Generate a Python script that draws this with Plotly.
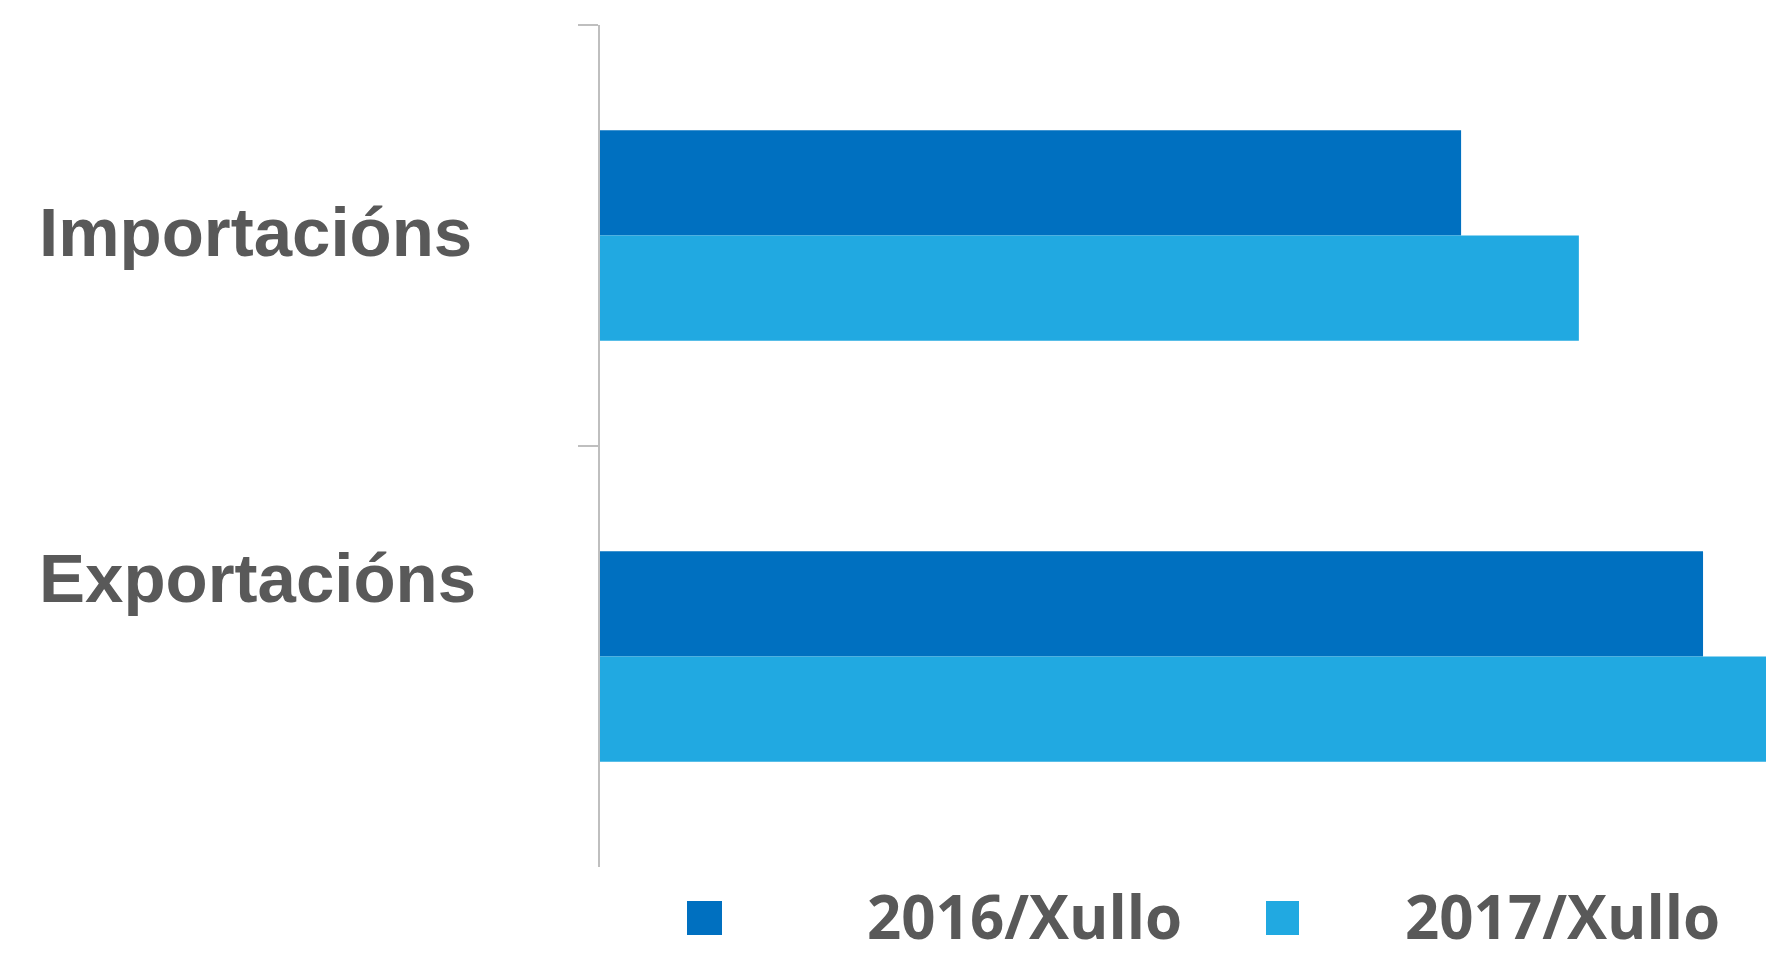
import plotly.graph_objects as go

# ---- data ----
categories = ["Importacións", "Exportacións"]
series_names = ["2016/Xullo", "2017/Xullo"]
values_2016 = [1477, 1892]
values_2017 = [1679, 2100]
series_colors = ["#0070C0", "#21A9E1"]

W, H = 1766, 958
L, R, T, B = 600, 0, 25, 91
PW, PH = W - L - R, H - T - B

def px_x(p):
    return (p - L) / PW

def px_y(p):
    return (H - B - p) / PH

fig = go.Figure()
for name, vals, col in zip(series_names, [values_2016, values_2017], series_colors):
    fig.add_trace(go.Bar(
        y=categories, x=vals, name=name, orientation="h",
        marker=dict(color=col, line=dict(width=0)),
        showlegend=False,
    ))

text_color = "#595959"
label_font = dict(family="Liberation Sans, Arial, sans-serif", size=69, color=text_color, weight="bold")
legend_font = dict(family="Open Sans, sans-serif", size=60, color=text_color, weight="bold")

annotations = []
# category labels (text boxes placed left of axis)
for cat, cy in zip(categories, [232, 578]):
    annotations.append(dict(
        text=cat, xref="paper", yref="paper", x=px_x(37), y=px_y(cy),
        xanchor="left", yanchor="middle", showarrow=False, font=label_font,
    ))

# custom legend: coloured squares + labels
shapes = []
legend_sq = [(687, 722), (1266, 1299)]
legend_txt = [865, 1403]
sq_top, sq_bot, txt_mid = 901, 935, 916
for name, col, (x0, x1), tx in zip(series_names, series_colors, legend_sq, legend_txt):
    shapes.append(dict(
        type="rect", xref="paper", yref="paper",
        x0=px_x(x0), x1=px_x(x1), y0=px_y(sq_bot), y1=px_y(sq_top),
        fillcolor=col, line=dict(width=0),
    ))
    annotations.append(dict(
        text=name, xref="paper", yref="paper", x=px_x(tx), y=px_y(txt_mid),
        xanchor="left", yanchor="middle", showarrow=False, font=legend_font,
    ))

fig.update_layout(
    width=W, height=H,
    margin=dict(l=L, r=R, t=T, b=B, pad=0),
    paper_bgcolor="white", plot_bgcolor="white",
    barmode="group", bargap=0.5, bargroupgap=0,
    showlegend=False,
    annotations=annotations,
    shapes=shapes,
    xaxis=dict(range=[0, 2000], visible=False, fixedrange=True),
    yaxis=dict(
        type="category", categoryorder="array", categoryarray=categories,
        autorange="reversed",
        tickson="boundaries", ticks="outside", ticklen=20, tickwidth=2, tickcolor="#BFBFBF",
        showticklabels=False, showgrid=False, zeroline=False,
        showline=True, linecolor="#BFBFBF", linewidth=2,
    ),
)

fig.write_html(
    "out.html",
    config={"displayModeBar": False},
    post_script="document.body.style.margin='0';document.body.style.overflow='hidden';",
)
